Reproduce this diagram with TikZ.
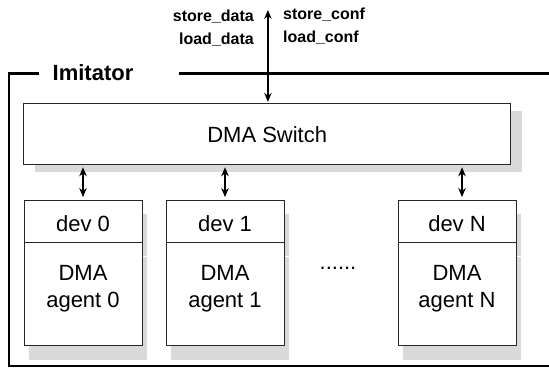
\documentclass[tikz,border=0pt]{standalone}
\usepackage{fontspec}
\setmainfont{Liberation Sans}
\usetikzlibrary{positioning, arrows.meta, shadows}
\tikzset{
    box/.style={draw=black!85, line width=0.9pt, fill=white, inner sep=0pt}, % bordo dei blocchi
    link/.style={{Stealth[length=9pt,width=7.5pt]}-{Stealth[length=9pt,width=7.5pt]}, line width=1.4pt},
    lbl/.style={font=\fontsize{16}{22.5}\selectfont\bfseries, inner sep=0pt},
    frame/.style={line width=2.3pt},
}

\begin{document}
\begin{tikzpicture}[x=1pt, y=-1pt, font=\fontsize{22}{27}\selectfont,
        hub/.style={box, minimum width=487pt, minimum height=61pt,
            drop shadow={shadow xshift=11pt, shadow yshift=-7pt, fill=gray!30, opacity=1}},
        devbox/.style={box, minimum width=118pt, text height=31.5pt, text depth=10.5pt,
            drop shadow={shadow xshift=5pt, shadow yshift=-14pt, fill=gray!30, opacity=1}},
        agentbox/.style={box, minimum width=118pt, align=center, text height=65pt, text depth=38pt,
            drop shadow={shadow xshift=5pt, shadow yshift=-14pt, fill=gray!30, opacity=1}}]
    \useasboundingbox (0,0) rectangle (549,368);

    % Cornice
    \coordinate (fa) at (38.5,73.5);
    \coordinate (fb) at (178.6,73.5);
    \draw[frame] (fa) -| (8.8,366) -- (549,366);
    \draw[frame] (fb) -- (549,73.5);
    \node[font=\fontsize{22}{27}\selectfont\bfseries, anchor=west, inner sep=0pt] (imit) at (52.5,72.5) {Imitator};

    % Blocchi
    \node[hub] (sw) at (267.2,134.3) {DMA Switch};
    \node[devbox] (dev0) at (83,221) {dev 0};
    \node[agentbox, below=0pt of dev0] (ag0) {DMA\\agent 0};
    \node[devbox] (dev1) at (225,221) {dev 1};
    \node[agentbox, below=0pt of dev1] (ag1) {DMA\\agent 1};
    \node[devbox] (devN) at (457,221) {dev N};
    \node[agentbox, below=0pt of devN] (agN) {DMA\\agent N};
    \node[anchor=base, inner sep=0pt] (dots) at (338,269.5) {......};

    % Segnali
    \node[lbl, anchor=base east, align=right] (dtxt) at (254,44) {store\_data\\load\_data};
    \node[lbl, anchor=base west, align=left] (ctxt) at (283,42) {store\_conf\\load\_conf};

    % Collegamenti
    \coordinate (ext) at (267.9,10);
    \coordinate (pN) at ([xshift=5pt]devN.north);
    \draw[link, shorten >=1.5pt] (ext) -- (sw.north -| ext);
    \draw[link, shorten <=2pt, shorten >=2.5pt] (sw.south -| dev0.north) -- (dev0.north);
    \draw[link, shorten <=2pt, shorten >=2.5pt] (sw.south -| dev1.north) -- (dev1.north);
    \draw[link, shorten <=2pt, shorten >=2.5pt] (sw.south -| pN) -- (pN);
\end{tikzpicture}
\end{document}
